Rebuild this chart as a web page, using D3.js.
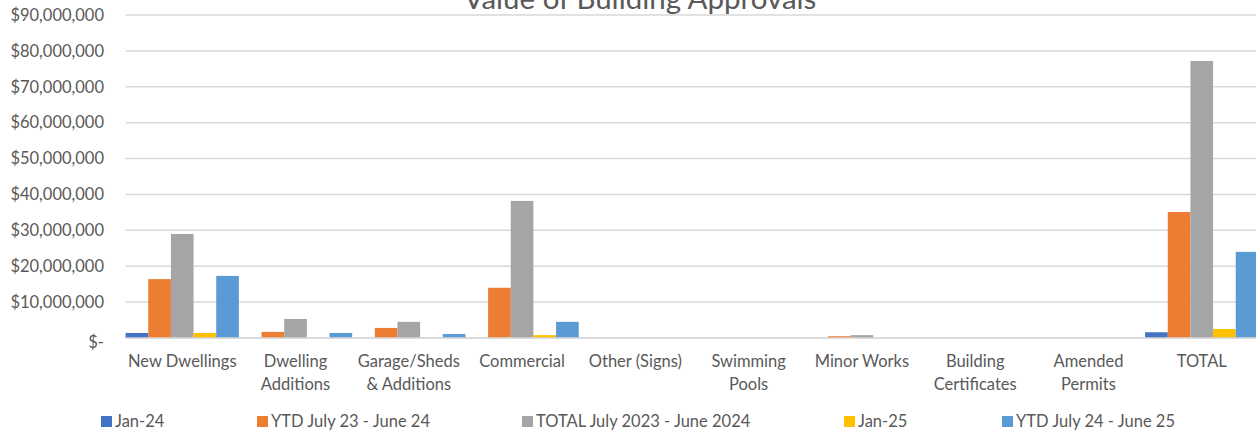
<!DOCTYPE html>
<html>
<head>
<meta charset="utf-8">
<script src="https://cdn.jsdelivr.net/npm/d3@7"></script>
<style>
  body { margin: 0; background: #fff; }
  svg { display: block; font-family: Lato, "Liberation Sans", sans-serif; }
</style>
</head>
<body>
<svg width="1256" height="432"></svg>
<script>
// categories along the x axis
var categories = ["New Dwellings", "Dwelling Additions", "Garage/Sheds & Additions", "Commercial",
  "Other (Signs)", "Swimming Pools", "Minor Works", "Building Certificates", "Amended Permits", "TOTAL"];
// how the tick labels break onto two lines
var categoryLabels = [["New Dwellings"], ["Dwelling", "Additions"], ["Garage/Sheds", "& Additions"], ["Commercial"],
  ["Other (Signs)"], ["Swimming", "Pools"], ["Minor Works"], ["Building", "Certificates"], ["Amended", "Permits"], ["TOTAL"]];

var seriesNames = ["Jan-24", "YTD July 23 - June 24", "TOTAL July 2023 - June 2024", "Jan-25", "YTD July 24 - June 25"];
var seriesColors = ["#4472C4", "#ED7D31", "#A5A5A5", "#FFC000", "#5B9BD5"];

// values, one per category
var jan24    = [1400000, 0, 0, 0, 0, 0, 0, 0, 0, 1600000];
var ytd2324  = [16400000, 1700000, 2800000, 14000000, 0, 0, 500000, 0, 0, 35100000];
var total2324 = [29000000, 5300000, 4500000, 38200000, 0, 0, 800000, 0, 0, 77200000];
var jan25    = [1400000, 0, 0, 800000, 0, 0, 0, 0, 0, 2500000];
var ytd2425  = [17300000, 1400000, 1100000, 4500000, 0, 0, 0, 0, 0, 24000000];

var yTicks = [0, 10000000, 20000000, 30000000, 40000000, 50000000, 60000000, 70000000, 80000000, 90000000];

var seriesValues = [jan24, ytd2324, total2324, jan25, ytd2425];

var svg = d3.select("svg");
var plotLeft = 125.6, plotRight = 1258.4, plotTop = 15, plotBottom = 338;

var x = d3.scaleBand().domain(categories).range([plotLeft, plotRight]).padding(0);
var xSub = d3.scaleBand().domain(seriesNames).range([0, x.bandwidth()]).padding(0);
var y = d3.scaleLinear().domain([0, 90000000]).range([plotBottom, plotTop]);

var fmt = d3.format(",");
var textColor = "#595959";
var fontSize = 16.5;

// gridlines
svg.append("g")
  .selectAll("line")
  .data(yTicks)
  .enter().append("line")
    .attr("x1", plotLeft)
    .attr("x2", 1256)
    .attr("y1", function(d) { return y(d); })
    .attr("y2", function(d) { return y(d); })
    .attr("stroke", "#d9d9d9")
    .attr("stroke-width", 1.5);

// y axis labels
var yAxis = d3.axisLeft(y)
  .tickValues(yTicks)
  .tickSize(0)
  .tickPadding(0)
  .tickFormat(function(d) { return d === 0 ? "$-" : "$" + fmt(d); });

svg.append("g")
  .attr("transform", "translate(104,0)")
  .call(yAxis)
  .call(function(g) { g.select(".domain").remove(); })
  .call(function(g) {
    g.selectAll("text")
      .attr("font-size", fontSize)
      .attr("font-family", "Lato, sans-serif")
      .attr("fill", textColor)
      .attr("dy", function(d) { return d === 0 ? "0.55em" : "0.32em"; });
  });

// bars
var groups = svg.append("g")
  .selectAll("g")
  .data(seriesNames)
  .enter().append("g")
    .attr("fill", function(d, i) { return seriesColors[i]; });

groups.selectAll("rect")
  .data(function(s, i) {
    return categories.map(function(c, j) { return { cat: c, series: s, value: seriesValues[i][j] }; });
  })
  .enter().append("rect")
    .attr("x", function(d) { return x(d.cat) + xSub(d.series); })
    .attr("width", xSub.bandwidth())
    .attr("y", function(d) { return y(d.value); })
    .attr("height", function(d) { return y(0) - y(d.value); });

// baseline
svg.append("line")
  .attr("x1", plotLeft).attr("x2", 1256)
  .attr("y1", y(0)).attr("y2", y(0))
  .attr("stroke", "#d9d9d9")
  .attr("stroke-width", 1.5);

// x axis labels
var xLabels = svg.append("g")
  .selectAll("text")
  .data(categories)
  .enter().append("text")
    .attr("x", function(d) { return x(d) + x.bandwidth() / 2; })
    .attr("y", 367)
    .attr("text-anchor", "middle")
    .attr("font-size", fontSize)
    .attr("fill", textColor);

xLabels.selectAll("tspan")
  .data(function(d, i) { return categoryLabels[i]; })
  .enter().append("tspan")
    .attr("x", function() { return d3.select(this.parentNode).attr("x"); })
    .attr("dy", function(d, i) { return i === 0 ? 0 : 22.5; })
    .text(function(d) { return d; });

// title, mostly cut off at the top
svg.append("text")
  .attr("x", 640)
  .attr("y", 9)
  .attr("text-anchor", "middle")
  .attr("font-size", 29.5)
  .attr("fill", textColor)
  .text("Value of Building Approvals");

// legend
var legendX = [101, 257, 522, 844, 1002];
var legend = svg.append("g")
  .selectAll("g")
  .data(seriesNames)
  .enter().append("g")
    .attr("transform", function(d, i) { return "translate(" + legendX[i] + ",416)"; });

legend.append("rect")
  .attr("width", 11)
  .attr("height", 11)
  .attr("y", 0)
  .attr("fill", function(d, i) { return seriesColors[i]; });

legend.append("text")
  .attr("x", 14)
  .attr("y", 5.5)
  .attr("dy", "0.35em")
  .attr("font-size", fontSize)
  .attr("fill", textColor)
  .text(function(d) { return d; });
</script>
</body>
</html>
